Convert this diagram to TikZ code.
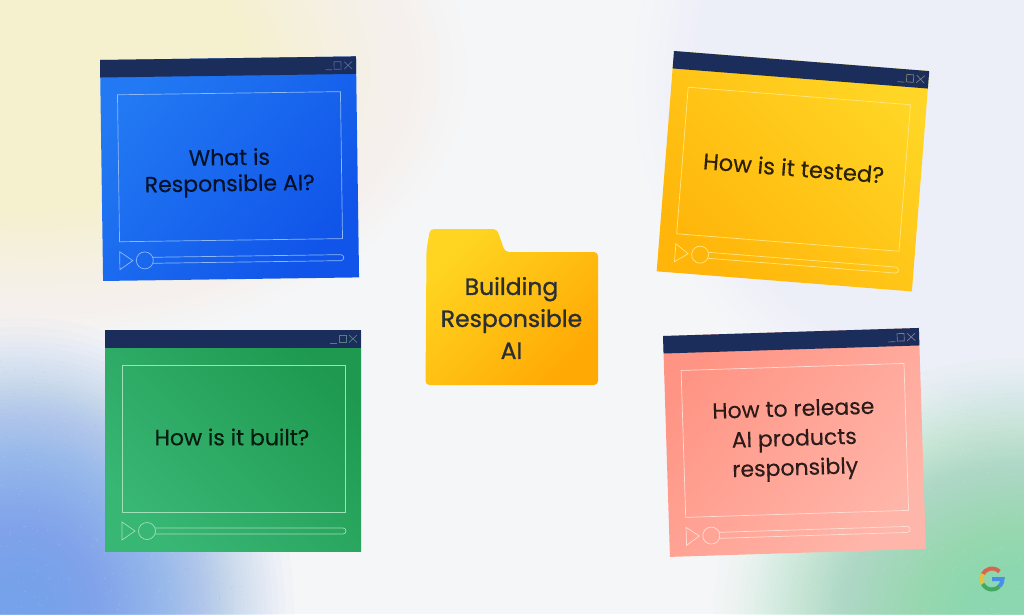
\documentclass[tikz,border=0pt]{standalone}
\usepackage{fontspec}
\setmainfont{Poppins}
\newfontfamily\cardfont[FakeBold=0.3]{Poppins}
\newfontfamily\medfont[FakeBold=1.1]{Poppins}
\definecolor{navy}{HTML}{1B2D5B}
\definecolor{inkdark}{HTML}{2A2F35}
\definecolor{pagebg}{HTML}{F5F6F8}
\definecolor{blueA}{HTML}{2279F3}\definecolor{blueB}{HTML}{1054E9}\definecolor{blueL}{HTML}{8CBAF8}
\definecolor{yelA}{HTML}{FFB50A}\definecolor{yelB}{HTML}{FFD625}\definecolor{yelL}{HTML}{FFE680}
\definecolor{grnA}{HTML}{38B674}\definecolor{grnB}{HTML}{1E994F}\definecolor{grnL}{HTML}{A0E0B8}
\definecolor{pnkA}{HTML}{FF9484}\definecolor{pnkB}{HTML}{FFB6AA}\definecolor{pnkL}{HTML}{FFDDD5}
\definecolor{fldA}{HTML}{FFD522}\definecolor{fldB}{HTML}{FFA904}
\definecolor{bgYellow}{RGB}{250,240,205}
\definecolor{bgPale}{RGB}{236,239,248}
\definecolor{bgBlue}{RGB}{115,162,234}
\definecolor{bgGreen}{RGB}{140,215,175}
\definecolor{gRed}{RGB}{222,90,70}
\definecolor{gYel}{RGB}{240,190,50}
\definecolor{gGrn}{RGB}{60,165,90}
\definecolor{gBlu}{RGB}{66,133,244}
\tikzset{
  cardtext/.style={align=center, text=black, text opacity=.82, font=\cardfont\fontsize{22}{26}\selectfont, transform shape, inner sep=0pt},
  foldertext/.style={align=center, text=inkdark, font=\medfont\fontsize{23.5}{32}\selectfont, inner sep=0pt},
  grainw/.style={fill=white,opacity=.2},
  graind/.style={fill=#1,opacity=.18},
}
% soft glow from stacked translucent ellipses, radii spaced by an inverse smoothstep: x y rx ry colour
\newcommand{\softblob}[5]{%
  \foreach \k in {1,...,69}{%
    \pgfmathsetmacro{\uu}{0.5-sin(asin(1-2*\k/70)/3)}%
    \fill[#5,opacity=.026] (#1,#2) ellipse ({#3*\uu} and {#4*\uu});
  }}
% x y angle colA colB shadeangle linecolor content
\newcommand{\appwin}[8]{%
\begin{scope}[shift={(#1,#2)},rotate=#3]
  \shade[left color=#4,right color=#5,shading angle=#6] (0,0) rectangle (256,221);
  \fill[navy] (0,0) rectangle (256,17.5);
  \begin{scope}[draw=#7,line width=0.7pt]
    \draw (17,35) rectangle (240,182);
    \draw (17,192) -- (30,201) -- (17,210) -- cycle;
    \draw[rounded corners=3pt] (50,198) -- (241,198) -- (241,204) -- (50,204);
    \draw (42,201) circle[radius=8.5];
  \end{scope}
  \begin{scope}[draw=#7!45!navy,line width=0.7pt]
    \draw (225,13) -- (232,13);
    \draw (234,5) rectangle (241,12.5);
    \draw (244,5) -- (252,12.5) (252,5) -- (244,12.5);
  \end{scope}
  #8
\end{scope}}
% grain: centre x, y, radius x, radius y, count, dark colour
\newcommand{\graindots}[6]{%
  \foreach \i in {1,...,#5}{%
    \pgfmathsetmacro{\ang}{rnd*360}%
    \pgfmathsetmacro{\rad}{sqrt(rnd)*0.9}%
    \fill[grainw] ({#1+#3*\rad*cos(\ang)},{#2+#4*\rad*sin(\ang)}) circle[radius=.6];
    \pgfmathsetmacro{\ang}{rnd*360}%
    \pgfmathsetmacro{\rad}{sqrt(rnd)*0.9}%
    \fill[graind=#6] ({#1+#3*\rad*cos(\ang)},{#2+#4*\rad*sin(\ang)}) circle[radius=.6];
  }}
\begin{document}
\begin{tikzpicture}[x=1pt,y=-1pt]
\useasboundingbox (0,0) rectangle (1024,614);
\begin{scope}
  \clip (0,0) rectangle (1024,614);
  \fill[pagebg] (0,0) rectangle (1024,614);
  \softblob{30}{70}{470}{300}{bgYellow}
  \softblob{1024}{80}{420}{400}{bgPale}
  \softblob{20}{610}{295}{315}{bgBlue}
  \softblob{1020}{614}{330}{275}{bgGreen}
  \pgfmathsetseed{4242}
  \graindots{20}{610}{260}{280}{800}{bgBlue}
  \graindots{1020}{614}{290}{240}{600}{bgGreen}
\end{scope}
\appwin{100}{60}{0.8}{blueA}{blueB}{50}{blueL}{\node[cardtext] (blue) at (128,114.5) {What is\\Responsible AI?};}
\appwin{674}{51}{-4.5}{yelA}{yelB}{135}{yelL}{\node[cardtext,font=\cardfont\fontsize{22.6}{26}\selectfont] (yellow) at (128.5,107) {How is it tested?};}
\appwin{105}{330}{0}{grnA}{grnB}{135}{grnL}{\node[cardtext] (green) at (127,107) {How is it built?};}
\appwin{663}{336}{1.8}{pnkA}{pnkB}{50}{pnkL}{\node[cardtext,font=\cardfont\fontsize{22}{29.5}\selectfont] (pink) at (128,108.5) {How to release\\AI products\\responsibly};}
% folder
\shade[left color=fldA, right color=fldB, shading angle=45, rounded corners=4pt]
  (425.5,385) -- (426.5,250) -- (430,229) -- (497,229) -- (505,252) -- (598,252) -- (598,385) -- cycle;
\node[foldertext] (folder) at (511.5,318) {Building\\Responsible\\AI};
% G mark
\begin{scope}[shift={(992,579)},y=1pt,line width=4pt,opacity=.9]
  \draw[gRed] (45:10.5) arc[start angle=45,end angle=152,radius=10.5];
  \draw[gYel] (152:10.5) arc[start angle=152,end angle=208,radius=10.5];
  \draw[gGrn] (208:10.5) arc[start angle=208,end angle=315,radius=10.5];
  \draw[gBlu] (315:10.5) arc[start angle=315,end angle=360,radius=10.5] -- (0,0);
\end{scope}
\end{tikzpicture}
\end{document}
